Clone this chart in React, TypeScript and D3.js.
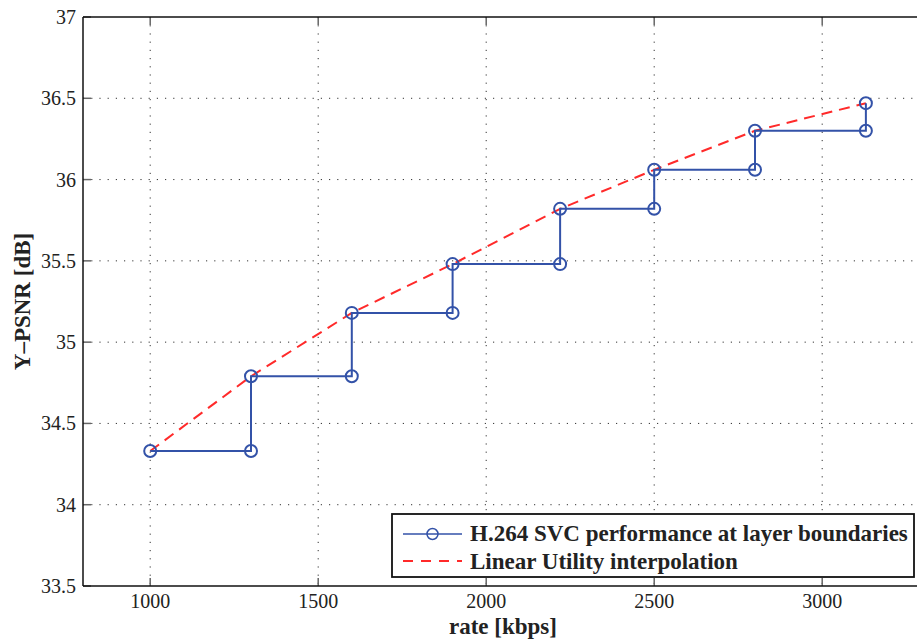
import React from "react";
import * as d3 from "d3";

const rates = [1000, 1300, 1600, 1900, 2220, 2500, 2800, 3130];
const psnrLow = [34.33, 34.33, 34.79, 35.18, 35.48, 35.82, 36.06, 36.30];
const psnrHigh = [34.33, 34.79, 35.18, 35.48, 35.82, 36.06, 36.30, 36.47];
const xTicks = [1000, 1500, 2000, 2500, 3000];
const yTicks = [33.5, 34, 34.5, 35, 35.5, 36, 36.5, 37];
const legendLabels = ["H.264 SVC performance at layer boundaries", "Linear Utility interpolation"];

const W = 917, H = 641;
const L = 83, T = 17, R = 923, B = 586;
const BLUE = "#3352a8";
const RED = "#ff2a2a";
const FONT = "'Liberation Serif', 'DejaVu Serif', serif";

export default function App() {
  const x = d3.scaleLinear().domain([800, 3300]).range([L, R]);
  const y = d3.scaleLinear().domain([33.5, 37]).range([B, T]);

  const stair: [number, number][] = [];
  rates.forEach((r, i) => {
    if (i === 0) {
      stair.push([r, psnrHigh[0]]);
    } else {
      stair.push([r, psnrLow[i]]);
      stair.push([r, psnrHigh[i]]);
    }
  });
  const line = d3.line<[number, number]>().x(d => x(d[0])).y(d => y(d[1]));
  const interp: [number, number][] = rates.map((r, i) => [r, psnrHigh[i]]);

  const grid = "#333";
  return (
    <div style={{ position: "fixed", left: 0, top: 0, width: W, height: H, overflow: "hidden" }}>
      <svg width={W} height={H} style={{ display: "block", background: "#fff" }}>
        <defs>
          <clipPath id="plot">
            <rect x={L} y={T} width={R - L} height={B - T} />
          </clipPath>
        </defs>
        {xTicks.map(t => (
          <line key={"gx" + t} x1={x(t)} x2={x(t)} y1={T} y2={B} stroke={grid} strokeWidth={1} strokeDasharray="1.2 7" />
        ))}
        {yTicks.slice(1, -1).map(t => (
          <line key={"gy" + t} x1={L} x2={R} y1={y(t)} y2={y(t)} stroke={grid} strokeWidth={1} strokeDasharray="1.2 7" />
        ))}
        {xTicks.map(t => (
          <g key={"tx" + t} stroke="#666" strokeWidth={1.5}>
            <line x1={x(t)} x2={x(t)} y1={B} y2={B - 8} />
            <line x1={x(t)} x2={x(t)} y1={T} y2={T + 8} />
          </g>
        ))}
        {yTicks.map(t => (
          <line key={"ty" + t} x1={L} x2={L + 8} y1={y(t)} y2={y(t)} stroke="#666" strokeWidth={1.5} />
        ))}
        <line x1={L} x2={R} y1={T} y2={T} stroke="#111" strokeWidth={1.5} />
        <line x1={L} x2={R} y1={B} y2={B} stroke="#111" strokeWidth={1.5} />
        <line x1={L} x2={L} y1={T} y2={B} stroke="#111" strokeWidth={1.5} />
        {xTicks.map(t => (
          <text key={"lx" + t} x={x(t)} y={608} textAnchor="middle" fontFamily={FONT} fontSize={20} fill="#222">{t}</text>
        ))}
        {yTicks.map(t => (
          <text key={"ly" + t} x={76} y={y(t) + 7} textAnchor="end" fontFamily={FONT} fontSize={20} fill="#222">{t}</text>
        ))}
        <text x={(L + R) / 2} y={634} textAnchor="middle" fontFamily={FONT} fontWeight="bold" fontSize={23} fill="#222">rate [kbps]</text>
        <text transform={`translate(30,${(T + B) / 2}) rotate(-90)`} textAnchor="middle" fontFamily={FONT} fontWeight="bold" fontSize={23} fill="#222">Y–PSNR [dB]</text>
        <g clipPath="url(#plot)">
          <path d={line(interp) || ""} fill="none" stroke={RED} strokeWidth={2} strokeDasharray="11 7" />
          <path d={line(stair) || ""} fill="none" stroke={BLUE} strokeWidth={2} />
          {stair.map((p, i) => (
            <circle key={"c" + i} cx={x(p[0])} cy={y(p[1])} r={6} fill="none" stroke={BLUE} strokeWidth={2} />
          ))}
        </g>
        <g>
          <rect x={392} y={514} width={522} height={63} fill="#fff" stroke="#111" strokeWidth={1.8} />
          <line x1={403} x2={462} y1={534} y2={534} stroke={BLUE} strokeWidth={1.5} />
          <circle cx={432.5} cy={534} r={5.5} fill="none" stroke={BLUE} strokeWidth={1.5} />
          <line x1={403} x2={462} y1={561} y2={561} stroke={RED} strokeWidth={2} strokeDasharray="10 8" />
          <text x={470} y={541} fontFamily={FONT} fontWeight="bold" fontSize={23} fill="#222">{legendLabels[0]}</text>
          <text x={470} y={569} fontFamily={FONT} fontWeight="bold" fontSize={23} fill="#222">{legendLabels[1]}</text>
        </g>
      </svg>
    </div>
  );
}
